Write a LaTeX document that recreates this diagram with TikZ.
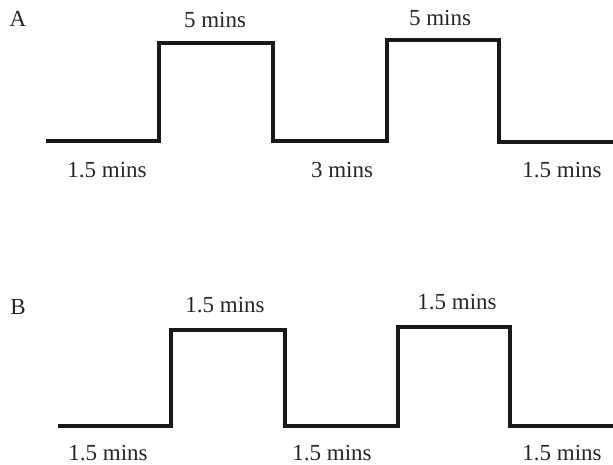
\documentclass[tikz,border=0pt]{standalone}
\usepackage{fontspec}
\setmainfont{Liberation Serif}
\begin{document}
\begin{tikzpicture}[x=1pt,y=-1pt,
  wave/.style={line width=4pt, line join=miter, color=black!90},
  lbl/.style={font=\fontsize{23}{27}\selectfont, inner sep=0pt, text=black!85}]
\useasboundingbox (0,0) rectangle (613,465);
% Waveform A
\draw[wave] (46,141.5) -- (159,141.5) -- (159,43) -- (273,43) -- (273,141.5)
  -- (387,141.5) -- (387,40) -- (499,40) -- (499,142) -- (613,142);
% Waveform B
\draw[wave] (58,426) -- (171,426) -- (171,330) -- (285,330) -- (285,426)
  -- (398,426) -- (398,327) -- (510,327) -- (510,426) -- (613,426);
% Labels A
\node[lbl] (la)  at (18,19)   {A};
\node[lbl] (a1)  at (215,20)  {5 mins};
\node[lbl] (a2)  at (440,18)  {5 mins};
\node[lbl] (a3)  at (107,170) {1.5 mins};
\node[lbl] (a4)  at (342,170) {3 mins};
\node[lbl] (a5)  at (562,170) {1.5 mins};
% Labels B
\node[lbl] (lb)  at (18,307)  {B};
\node[lbl] (b1)  at (225,305) {1.5 mins};
\node[lbl] (b2)  at (457,302) {1.5 mins};
\node[lbl] (b3)  at (108,453) {1.5 mins};
\node[lbl] (b4)  at (332,453) {1.5 mins};
\node[lbl] (b5)  at (562,453) {1.5 mins};
\end{tikzpicture}
\end{document}
